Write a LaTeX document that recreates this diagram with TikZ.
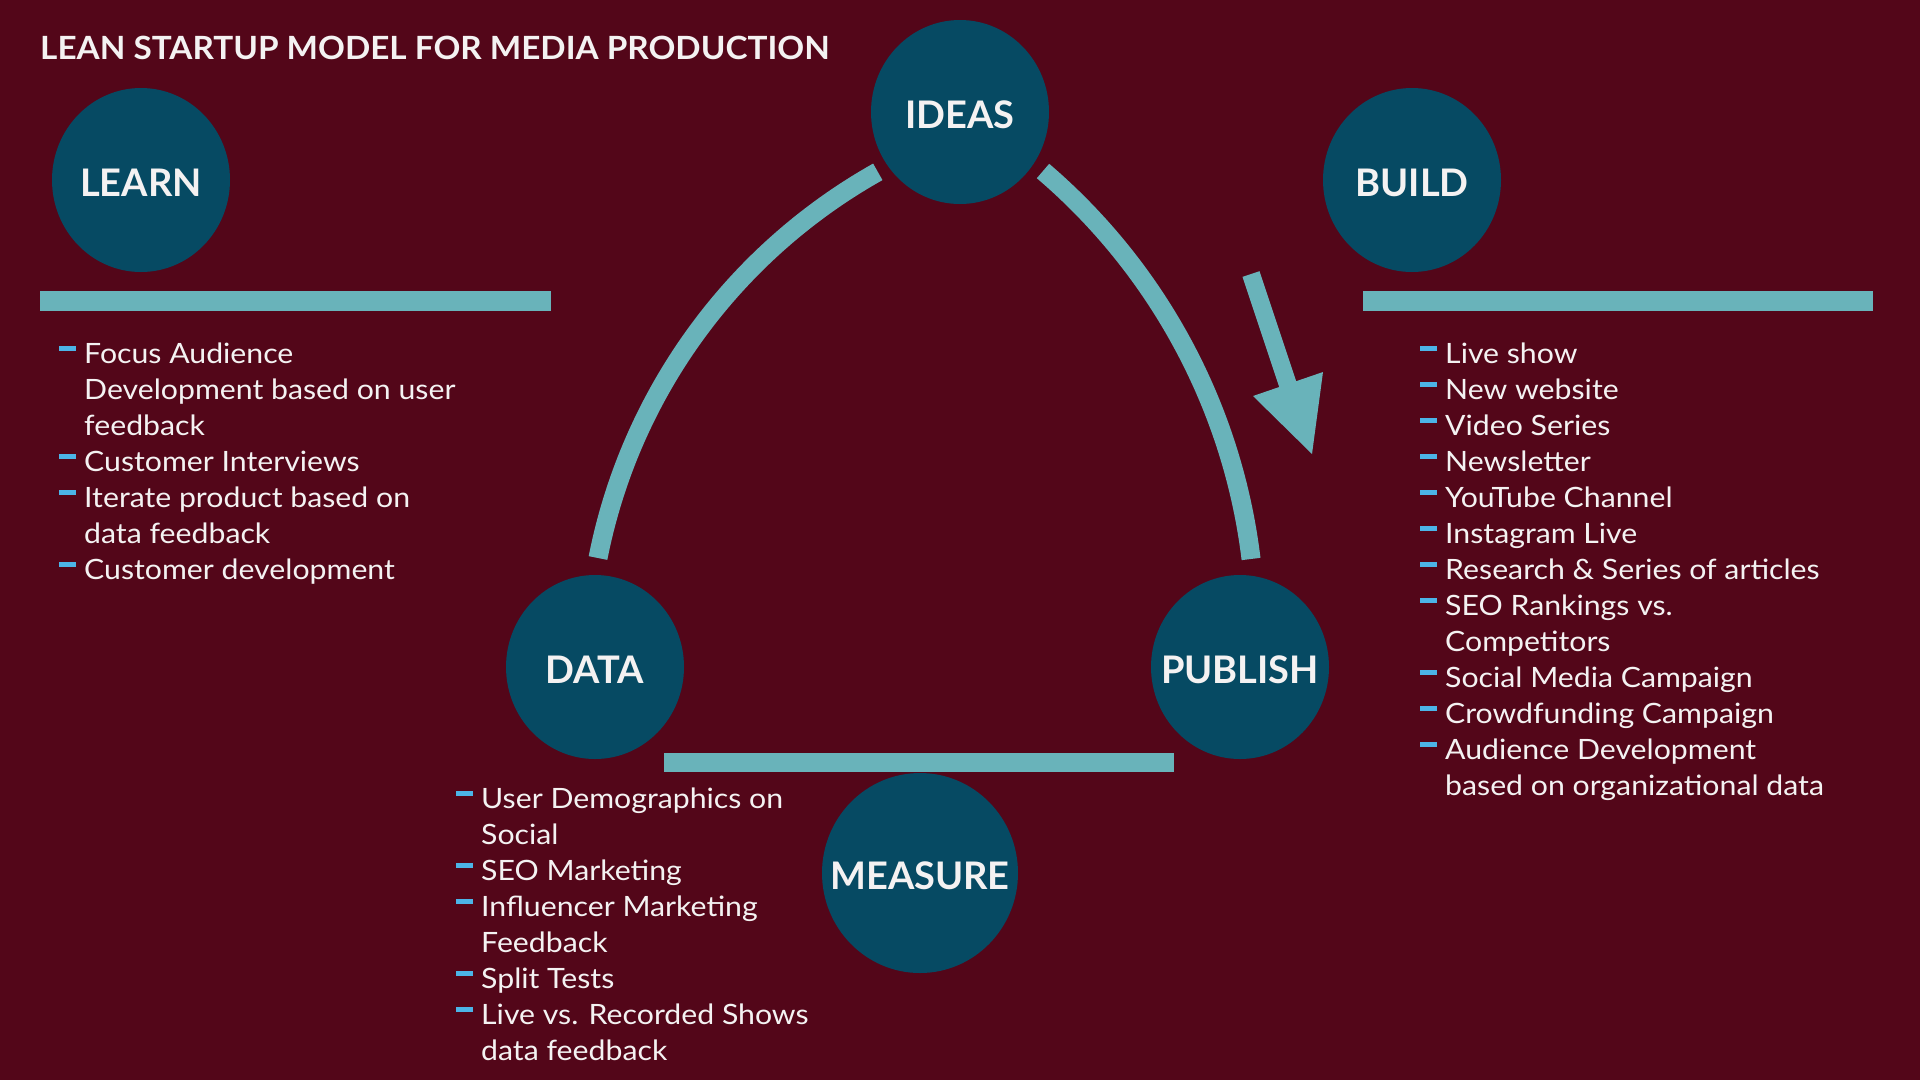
\documentclass[tikz,border=0pt]{standalone}
\usepackage{fontspec}
\setmainfont{Lato}
\newfontfamily\listfont{Lato}[FakeStretch=1.08]
\newfontfamily\titlefont{Lato}[FakeStretch=1.04]
\usetikzlibrary{shapes.geometric}
\definecolor{bgcol}{HTML}{530619}
\definecolor{circcol}{HTML}{064A63}
\definecolor{barcol}{HTML}{69B3BA}
\definecolor{dashcol}{HTML}{4CB4E7}
\definecolor{txtcol}{HTML}{F4F2F2}
\newcommand{\bitem}[1]{\hbox{\makebox[25pt][l]{\textcolor{dashcol}{\rule[12pt]{17pt}{5pt}}}#1}}
\newcommand{\bcont}[1]{\hbox{\hspace*{25pt}#1}}
\begin{document}
\begin{tikzpicture}[x=1pt,y=-1pt,
  stage/.style={ellipse, fill=circcol, inner sep=0pt,
    minimum width=178pt, minimum height=184pt},
  bigstage/.style={stage, minimum width=196pt, minimum height=200pt},
  stagelabel/.style={text=txtcol, inner sep=0pt, yshift=-2.5pt,
    font=\fontsize{38}{40}\selectfont\bfseries},
  band/.style={fill=barcol},
  arcline/.style={draw=barcol, line width=19pt},
  listtext/.style={anchor=base west, inner sep=0pt, text=txtcol,
    font=\listfont\fontsize{28}{36}\selectfont}]
\fill[bgcol] (0,0) rectangle (1920,1080);
\useasboundingbox (0,0) rectangle (1920,1080);

% title
\node[anchor=base west, inner sep=0pt, text=txtcol,
  font=\titlefont\fontsize{32}{36}\selectfont\bfseries] (title) at (40,59)
  {LEAN STARTUP MODEL FOR MEDIA PRODUCTION};

% bars
\fill[band] (40,291) rectangle (551,311);
\fill[band] (1363,291) rectangle (1873,311);
\fill[band] (664,753) rectangle (1174,772);

% arcs
\coordinate (la1) at (598,558);
\coordinate (ra1) at (1043,171);
\draw[arcline] (la1) arc[start angle=191.15, end angle=240.7, radius=569];
\draw[arcline] (ra1) arc[start angle=-49.5, end angle=-6.9, radius=606];

% arrow
\coordinate (arrS) at (1251,274);
\coordinate (arrB) at (1288,385);
\coordinate (arrL) at (1253,396);
\coordinate (arrR) at (1323,372);
\coordinate (arrT) at (1312,454);
\draw[draw=barcol, line width=18pt] (arrS) -- (arrB);
\fill[barcol] (arrL) -- (arrT) -- (arrR) -- cycle;

% circles
\node[stage] (learn) at (141,180) {};
\node[stage] (ideas) at (960,112) {};
\node[stage] (build) at (1412,180) {};
\node[stage] (data) at (595,667) {};
\node[stage] (publish) at (1240,667) {};
\node[bigstage] (measure) at (920,873) {};
\node[stagelabel] (learnlbl) at (learn.center) {LEARN};
\node[stagelabel] (ideaslbl) at (ideas.center) {IDEAS};
\node[stagelabel] (buildlbl) at (build.center) {BUILD};
\node[stagelabel] (datalbl) at (data.center) {DATA};
\node[stagelabel] (publishlbl) at (publish.center) {PUBLISH};
\node[stagelabel] (measurelbl) at (measure.center) {MEASURE};

% lists
\node[listtext] (learnlist) at (59,363) {\vtop{\baselineskip=36pt
  \bitem{Focus Audience}
  \bcont{Development based on user}
  \bcont{feedback}
  \bitem{Customer Interviews}
  \bitem{Iterate product based on}
  \bcont{data feedback}
  \bitem{Customer development}}};

\node[listtext] (datalist) at (456,808) {\vtop{\baselineskip=36pt
  \bitem{User Demographics on}
  \bcont{Social}
  \bitem{SEO Marketing}
  \bitem{Influencer Marketing}
  \bcont{Feedback}
  \bitem{Split Tests}
  \bitem{Live vs. Recorded Shows}
  \bcont{data feedback}}};

\node[listtext] (buildlist) at (1420,363) {\vtop{\baselineskip=36pt
  \bitem{Live show}
  \bitem{New website}
  \bitem{Video Series}
  \bitem{Newsletter}
  \bitem{YouTube Channel}
  \bitem{Instagram Live}
  \bitem{Research \& Series of articles}
  \bitem{SEO Rankings vs.}
  \bcont{Competitors}
  \bitem{Social Media Campaign}
  \bitem{Crowdfunding Campaign}
  \bitem{Audience Development}
  \bcont{based on organizational data}}};
\end{tikzpicture}
\end{document}
